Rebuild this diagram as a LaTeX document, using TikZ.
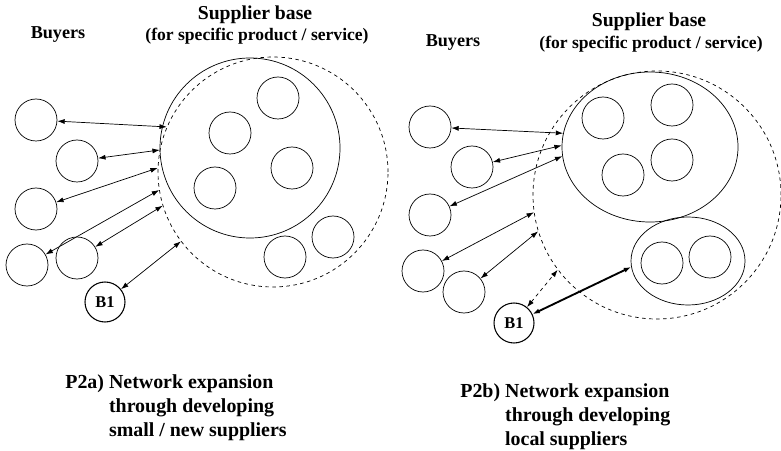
\documentclass[tikz,border=0pt]{standalone}
\usepackage{fontspec}
\setmainfont{Liberation Serif}
\usetikzlibrary{shapes.geometric,arrows.meta}

\begin{document}
\begin{tikzpicture}[x=0.3mm,y=-0.3mm,>={Latex[length=2.2mm,width=1.5mm]},line width=0.6pt,
        firm/.style={draw, circle, inner sep=0pt, minimum size=12.6mm},
        buyer/.style={draw, circle, inner sep=0pt, minimum size=12.6mm},
        focal/.style={draw, circle, inner sep=0pt, minimum size=12mm, line width=0.9pt, font=\bfseries\fontsize{14}{16}\selectfont},
        head/.style={font=\bfseries\fontsize{15.5}{18}\selectfont, inner sep=0pt},
        note/.style={font=\bfseries\fontsize{17}{20.5}\selectfont, inner sep=0pt, anchor=north west}]
    \useasboundingbox (0,0) rectangle (781,451);
    % P2a: small / new suppliers
    \node (buyersa) [head] at (58,35) {Buyers};
    \node (basea) [head, font=\bfseries\fontsize{16.8}{18}\selectfont] at (255,15) {Supplier base};
    \node (fora) [head, font=\bfseries\fontsize{15}{18}\selectfont] at (257,36) {(for specific product / service)};
    \node (poola) [draw, circle, dashed, minimum size=69mm] at (273,172) {};
    \node (corea) [draw, circle, minimum size=54mm] at (250,148) {};
    \node (sa1) [firm] at (278,98) {};
    \node (sa2) [firm] at (230,133) {};
    \node (sa3) [firm] at (292,168) {};
    \node (sa4) [firm] at (215,188) {};
    \node (na1) [firm] at (285,257) {};
    \node (na2) [firm] at (333,237) {};
    \node (ba1) [buyer] at (36,120) {};
    \node (ba2) [buyer] at (77,161) {};
    \node (ba3) [buyer] at (36,209) {};
    \node (ba4) [buyer] at (27,265) {};
    \node (ba5) [buyer] at (77,258) {};
    \node (b1a) [focal] at (105,302) {B1};
    \draw[<->] (ba1) -- (poola.157);
    \draw[<->] (ba2) -- (poola.169);
    \draw[<->] (ba3) -- (poola.178);
    \draw[<->] (ba4) -- (poola.189);
    \draw[<->] (ba5) -- (poola.197);
    \draw[<->] (b1a) -- (poola.217);
    \node (capa) [note] at (65,371) {\begin{tabular}{@{}l@{\ }l@{}}P2a) & Network expansion\\ & through developing\\ & small / new suppliers\end{tabular}};
    % P2b: local suppliers
    \node (buyersb) [head] at (453,43) {Buyers};
    \node (baseb) [head, font=\bfseries\fontsize{16.8}{18}\selectfont] at (649,22) {Supplier base};
    \node (forb) [head, font=\bfseries\fontsize{15}{18}\selectfont] at (651,44) {(for specific product / service)};
    \node (poolb) [draw, circle, dashed, minimum size=74.4mm] at (657,195) {};
    \node (coreb) [draw, ellipse, inner sep=0pt, minimum width=52.8mm, minimum height=45mm] at (650,147) {};
    \node (localb) [draw, ellipse, inner sep=0pt, minimum width=34.2mm, minimum height=26.4mm] at (688,261) {};
    \node (sb1) [firm] at (603,118) {};
    \node (sb2) [firm] at (672,105) {};
    \node (sb3) [firm] at (672,160) {};
    \node (sb4) [firm] at (623,175) {};
    \node (nb1) [firm] at (662,263) {};
    \node (nb2) [firm] at (710,257) {};
    \node (bb1) [buyer] at (430,127) {};
    \node (bb2) [buyer] at (472,167) {};
    \node (bb3) [buyer] at (430,215) {};
    \node (bb4) [buyer] at (423,271) {};
    \node (bb5) [buyer] at (464,292) {};
    \node (b1b) [focal] at (514,323) {B1};
    \draw[<->] (bb1) -- (coreb.171);
    \draw[<->] (bb2) -- (coreb.179);
    \draw[<->] (bb3) -- (coreb.186);
    \draw[<->] (bb4) -- (poolb.188);
    \draw[<->] (bb5) -- (poolb.197);
    \draw[<->, dashed] (b1b) -- (poolb.217);
    \draw[<->, line width=1.6pt] (b1b) -- (localb.186);
    \node (capb) [note] at (460,380) {\begin{tabular}{@{}l@{\ }l@{}}P2b) & Network expansion\\ & through developing\\ & local suppliers\end{tabular}};
\end{tikzpicture}
\end{document}
